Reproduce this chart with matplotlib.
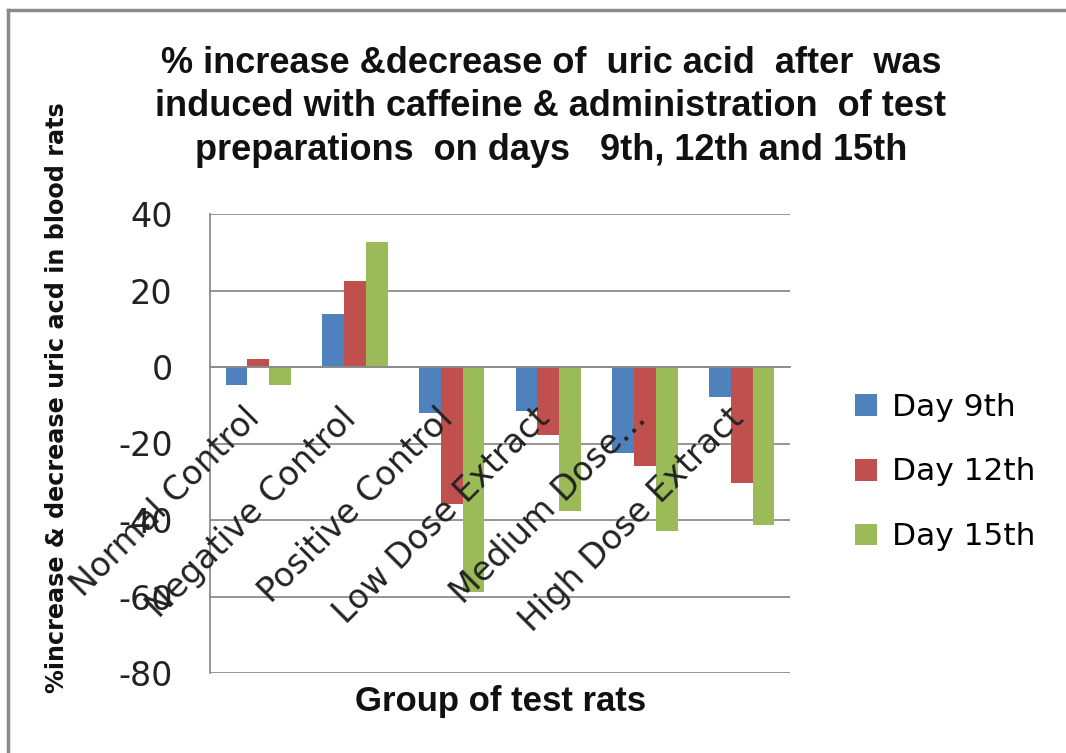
import matplotlib
matplotlib.use("Agg")
import matplotlib.pyplot as plt
from matplotlib.lines import Line2D
import numpy as np

categories = ["Normal Control", "Negative Control", "Positive Control",
              "Low Dose Extract", "Medium Dose…", "High Dose Extract"]
day9 = [-4.8, 13.8, -11.9, -11.6, -22.4, -7.9]
day12 = [2.0, 22.5, -35.8, -17.8, -25.9, -30.4]
day15 = [-4.8, 32.8, -58.7, -37.6, -43.0, -41.3]
series_names = ["Day 9th", "Day 12th", "Day 15th"]
colors = ["#4F81BD", "#C0504D", "#9BBB59"]
yticks = [40, 20, 0, -20, -40, -60, -80]

plt.rcParams['axes.unicode_minus'] = False
plt.rcParams['font.family'] = ['DejaVu Sans']

fig = plt.figure(figsize=(10.66, 7.53), dpi=100)
ax = fig.add_axes([210/1066, 1-673/753, 580/1066, (673-214)/753])
ax.set_axisbelow(True)

x = np.arange(len(categories))
w = 0.225
for i, (vals, name, c) in enumerate(zip([day9, day12, day15], series_names, colors)):
    ax.bar(x + (i-1)*w, vals, width=w, color=c, label=name, zorder=3)

ax.set_xlim(-0.5, len(categories)-0.5)
ax.set_ylim(-80, 40)
ax.set_yticks(yticks)
ax.set_yticklabels([str(t) for t in yticks], fontsize=24, color="#222222")
ax.yaxis.grid(True, color="#8c8c8c", linewidth=1.3, zorder=0)
ax.tick_params(axis='y', length=0, pad=27)

for s in ['top', 'right']:
    ax.spines[s].set_visible(False)
ax.spines['left'].set_color("#8c8c8c")
ax.spines['left'].set_linewidth(1.3)
ax.spines['bottom'].set_position(('data', 0))
ax.spines['bottom'].set_color("#8c8c8c")
ax.spines['bottom'].set_linewidth(1.3)
ax.spines['bottom'].set_zorder(4)

ax.set_xticks(x)
ax.set_xticklabels([])
ax.tick_params(axis='x', length=0)
for i, lab in enumerate(categories):
    ax.annotate(lab, xy=(i, 0), xycoords='data', xytext=(-11, -25),
                textcoords='offset points', rotation=45, ha='right', va='top',
                rotation_mode='anchor', fontsize=24, color="#222222",
                zorder=10, annotation_clip=False)

title_font = ['Liberation Sans', 'DejaVu Sans']
fig.text(551/1066, 1-107/753,
         "% increase &decrease of  uric acid  after  was\n"
         "induced with caffeine & administration  of test\n"
         "preparations  on days   9th, 12th and 15th",
         ha='center', va='center', fontsize=26, fontweight='bold',
         family=title_font, linespacing=1.33, color="#111111")

fig.text(501/1066, 1-702/753, "Group of test rats", ha='center', va='center',
         fontsize=25, fontweight='bold', family=title_font, color="#111111")

fig.text(57/1066, 1-398/753, "%increase & decrease uric acd in blood rats",
         ha='center', va='center', rotation=90, fontsize=17.2, fontweight='bold',
         color="#111111")

ax.legend(loc='center left', bbox_to_anchor=(855/1066, 1-472/753),
          bbox_transform=fig.transFigure, frameon=False, fontsize=22.5,
          handlelength=0.7, handleheight=0.7, handletextpad=0.5,
          labelspacing=1.15, borderpad=0, borderaxespad=0)

fig.add_artist(Line2D([8/1066, 8/1066], [0, 1-10/753], transform=fig.transFigure,
                      color="#8a8a8a", linewidth=2.5))
fig.add_artist(Line2D([8/1066, 1], [1-10/753, 1-10/753], transform=fig.transFigure,
                      color="#8a8a8a", linewidth=2.5))

fig.savefig("out.png", dpi=100)
